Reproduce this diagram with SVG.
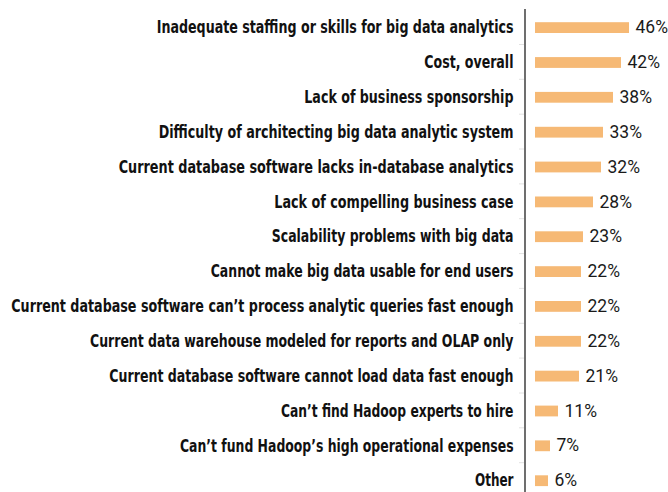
<svg xmlns="http://www.w3.org/2000/svg" width="668" height="492" viewBox="0 0 668 492">
<style>
.lbl{font-family:"DejaVu Sans Condensed","DejaVu Sans","Liberation Sans",sans-serif;font-weight:bold;font-size:17.2px;fill:#111;}
.pct{font-family:Roboto,"Liberation Sans",sans-serif;font-size:17.5px;fill:#1a1a1a;}
.bar{fill:#F6B975;}
.tick{stroke:#e2e2e2;stroke-width:1;}
</style>
<rect width="668" height="492" fill="#fff"/>
<g id="axis">
<line x1="525" y1="9" x2="525" y2="492" stroke="#555" stroke-width="1.7"/>
<line class="tick" x1="519" y1="44.5" x2="524" y2="44.5"/>
<line class="tick" x1="519" y1="79.3" x2="524" y2="79.3"/>
<line class="tick" x1="519" y1="114.2" x2="524" y2="114.2"/>
<line class="tick" x1="519" y1="149" x2="524" y2="149"/>
<line class="tick" x1="519" y1="183.9" x2="524" y2="183.9"/>
<line class="tick" x1="519" y1="218.7" x2="524" y2="218.7"/>
<line class="tick" x1="519" y1="253.6" x2="524" y2="253.6"/>
<line class="tick" x1="519" y1="288.4" x2="524" y2="288.4"/>
<line class="tick" x1="519" y1="323.3" x2="524" y2="323.3"/>
<line class="tick" x1="519" y1="358.1" x2="524" y2="358.1"/>
<line class="tick" x1="519" y1="393" x2="524" y2="393"/>
<line class="tick" x1="519" y1="427.8" x2="524" y2="427.8"/>
<line class="tick" x1="519" y1="462.7" x2="524" y2="462.7"/>
</g>
<g id="row1">
<text class="lbl" transform="translate(156.7,33.3) scale(0.85,1)" x="0" y="0" textLength="419.8" lengthAdjust="spacingAndGlyphs">Inadequate staffing or skills for big data analytics</text>
<rect class="bar" x="535" y="22.2" width="94" height="10.8"/>
<text class="pct" x="635.5" y="33.2">46%</text>
</g>
<g id="row2">
<text class="lbl" transform="translate(424.3,68.2) scale(0.85,1)" x="0" y="0" textLength="104.9" lengthAdjust="spacingAndGlyphs">Cost, overall</text>
<rect class="bar" x="535" y="57.1" width="86" height="10.8"/>
<text class="pct" x="627.5" y="68.1">42%</text>
</g>
<g id="row3">
<text class="lbl" transform="translate(304.3,103) scale(0.85,1)" x="0" y="0" textLength="246.1" lengthAdjust="spacingAndGlyphs">Lack of business sponsorship</text>
<rect class="bar" x="535" y="91.9" width="78" height="10.8"/>
<text class="pct" x="619.5" y="102.9">38%</text>
</g>
<g id="row4">
<text class="lbl" transform="translate(158.7,137.9) scale(0.85,1)" x="0" y="0" textLength="417.4" lengthAdjust="spacingAndGlyphs">Difficulty of architecting big data analytic system</text>
<rect class="bar" x="535" y="126.8" width="68" height="10.8"/>
<text class="pct" x="609.5" y="137.8">33%</text>
</g>
<g id="row5">
<text class="lbl" transform="translate(118.7,172.7) scale(0.85,1)" x="0" y="0" textLength="464.5" lengthAdjust="spacingAndGlyphs">Current database software lacks in-database analytics</text>
<rect class="bar" x="535" y="161.6" width="66" height="10.8"/>
<text class="pct" x="607.5" y="172.6">32%</text>
</g>
<g id="row6">
<text class="lbl" transform="translate(274.3,207.6) scale(0.85,1)" x="0" y="0" textLength="281.4" lengthAdjust="spacingAndGlyphs">Lack of compelling business case</text>
<rect class="bar" x="535" y="196.5" width="58" height="10.8"/>
<text class="pct" x="599.5" y="207.5">28%</text>
</g>
<g id="row7">
<text class="lbl" transform="translate(271.7,242.4) scale(0.85,1)" x="0" y="0" textLength="284.5" lengthAdjust="spacingAndGlyphs">Scalability problems with big data</text>
<rect class="bar" x="535" y="231.3" width="48" height="10.8"/>
<text class="pct" x="589.5" y="242.3">23%</text>
</g>
<g id="row8">
<text class="lbl" transform="translate(210.7,277.3) scale(0.85,1)" x="0" y="0" textLength="356.2" lengthAdjust="spacingAndGlyphs">Cannot make big data usable for end users</text>
<rect class="bar" x="535" y="266.2" width="46" height="10.8"/>
<text class="pct" x="587.5" y="277.2">22%</text>
</g>
<g id="row9">
<text class="lbl" transform="translate(11.3,312.1) scale(0.85,1)" x="0" y="0" textLength="590.8" lengthAdjust="spacingAndGlyphs">Current database software can’t process analytic queries fast enough</text>
<rect class="bar" x="535" y="301" width="46" height="10.8"/>
<text class="pct" x="587.5" y="312">22%</text>
</g>
<g id="row10">
<text class="lbl" transform="translate(90,347) scale(0.85,1)" x="0" y="0" textLength="498.2" lengthAdjust="spacingAndGlyphs">Current data warehouse modeled for reports and OLAP only</text>
<rect class="bar" x="535" y="335.9" width="46" height="10.8"/>
<text class="pct" x="587.5" y="346.9">22%</text>
</g>
<g id="row11">
<text class="lbl" transform="translate(109.3,381.8) scale(0.85,1)" x="0" y="0" textLength="475.5" lengthAdjust="spacingAndGlyphs">Current database software cannot load data fast enough</text>
<rect class="bar" x="535" y="370.7" width="44" height="10.8"/>
<text class="pct" x="585.5" y="381.7">21%</text>
</g>
<g id="row12">
<text class="lbl" transform="translate(281,416.7) scale(0.85,1)" x="0" y="0" textLength="273.5" lengthAdjust="spacingAndGlyphs">Can’t find Hadoop experts to hire</text>
<rect class="bar" x="535" y="405.6" width="23" height="10.8"/>
<text class="pct" x="564.5" y="416.6">11%</text>
</g>
<g id="row13">
<text class="lbl" transform="translate(180,451.5) scale(0.85,1)" x="0" y="0" textLength="392.4" lengthAdjust="spacingAndGlyphs">Can’t fund Hadoop’s high operational expenses</text>
<rect class="bar" x="535" y="440.4" width="15" height="10.8"/>
<text class="pct" x="556.5" y="451.4">7%</text>
</g>
<g id="row14">
<text class="lbl" transform="translate(475,486.4) scale(0.85,1)" x="0" y="0" textLength="45.3" lengthAdjust="spacingAndGlyphs">Other</text>
<rect class="bar" x="535" y="475.3" width="13" height="10.8"/>
<text class="pct" x="554.5" y="486.3">6%</text>
</g>
</svg>
